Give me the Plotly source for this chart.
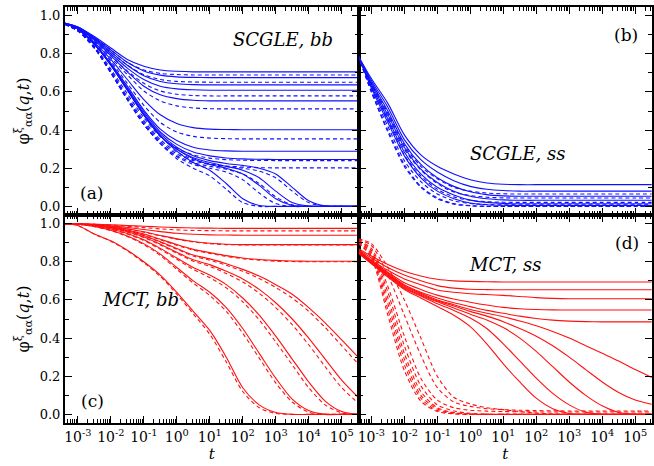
import plotly.graph_objects as go
from plotly.subplots import make_subplots

# sample grid (log10 t)
LOG_T = [-3.4, -3.0, -2.5, -2.0, -1.5, -1.0, -0.5, 0.0, 0.5, 1.0, 1.5, 2.0, 2.5, 3.0, 3.5, 4.0, 4.5, 5.0, 5.5]
T = [10 ** v for v in LOG_T]

X_TICKS = [1e-3, 1e-2, 1e-1, 1e0, 1e1, 1e2, 1e3, 1e4, 1e5]
X_TICKTEXT = ["10<sup>-3</sup>", "10<sup>-2</sup>", "10<sup>-1</sup>", "10<sup>0</sup>", "10<sup>1</sup>",
              "10<sup>2</sup>", "10<sup>3</sup>", "10<sup>4</sup>", "10<sup>5</sup>"]
Y_TICKS = [0.0, 0.2, 0.4, 0.6, 0.8, 1.0]
Y_TICKTEXT = ["0.0", "0.2", "0.4", "0.6", "0.8", "1.0"]

# ---- panel (a) SCGLE, bb ----
a_solid = [
    [0.96,0.94,0.89,0.83,0.77,0.735,0.715,0.708,0.705,0.705,0.705,0.705,0.705,0.705,0.705,0.705,0.705,0.705,0.705],
    [0.96,0.94,0.885,0.82,0.755,0.71,0.688,0.679,0.676,0.675,0.675,0.675,0.675,0.675,0.675,0.675,0.675,0.675,0.675],
    [0.96,0.94,0.88,0.81,0.74,0.685,0.655,0.643,0.638,0.637,0.637,0.637,0.637,0.637,0.637,0.637,0.637,0.637,0.637],
    [0.96,0.935,0.875,0.80,0.725,0.665,0.63,0.616,0.611,0.609,0.609,0.609,0.609,0.609,0.609,0.609,0.609,0.609,0.609],
    [0.96,0.935,0.87,0.79,0.705,0.63,0.585,0.565,0.556,0.553,0.553,0.553,0.553,0.553,0.553,0.553,0.553,0.553,0.553],
    [0.96,0.93,0.86,0.77,0.665,0.56,0.48,0.435,0.413,0.405,0.403,0.402,0.402,0.402,0.402,0.402,0.402,0.402,0.402],
    [0.96,0.93,0.85,0.75,0.63,0.505,0.405,0.345,0.31,0.296,0.291,0.289,0.289,0.289,0.289,0.289,0.289,0.289,0.289],
    [0.96,0.93,0.85,0.745,0.62,0.495,0.39,0.325,0.285,0.265,0.254,0.249,0.247,0.246,0.246,0.246,0.246,0.246,0.246],
    [0.96,0.93,0.85,0.74,0.61,0.48,0.37,0.29,0.23,0.19,0.12,0.04,0.005,0.0,0.0,0.0,0.0,0.0,0.0],
    [0.96,0.93,0.85,0.74,0.61,0.48,0.37,0.30,0.25,0.22,0.20,0.17,0.11,0.04,0.005,0.0,0.0,0.0,0.0],
    [0.96,0.93,0.85,0.74,0.61,0.48,0.37,0.30,0.255,0.23,0.21,0.19,0.15,0.08,0.02,0.002,0.0,0.0,0.0],
    [0.96,0.93,0.85,0.745,0.615,0.485,0.38,0.31,0.265,0.24,0.225,0.215,0.20,0.17,0.10,0.03,0.003,0.0,0.0],
]
a_dashed = [
    [0.958,0.938,0.885,0.82,0.755,0.715,0.697,0.691,0.689,0.689,0.689,0.689,0.689,0.689,0.689,0.689,0.689,0.689,0.689],
    [0.958,0.936,0.878,0.808,0.74,0.69,0.665,0.655,0.652,0.651,0.651,0.651,0.651,0.651,0.651,0.651,0.651,0.651,0.651],
    [0.958,0.934,0.87,0.79,0.71,0.645,0.605,0.588,0.581,0.579,0.579,0.579,0.579,0.579,0.579,0.579,0.579,0.579,0.579],
    [0.958,0.932,0.865,0.78,0.69,0.605,0.553,0.527,0.516,0.512,0.511,0.511,0.511,0.511,0.511,0.511,0.511,0.511,0.511],
    [0.955,0.928,0.855,0.76,0.645,0.53,0.44,0.39,0.367,0.358,0.355,0.354,0.354,0.354,0.354,0.354,0.354,0.354,0.354],
    [0.955,0.925,0.84,0.72,0.59,0.465,0.365,0.305,0.27,0.253,0.245,0.242,0.241,0.24,0.24,0.24,0.24,0.24,0.24],
    [0.955,0.92,0.835,0.71,0.575,0.45,0.35,0.285,0.245,0.223,0.212,0.206,0.203,0.202,0.202,0.202,0.202,0.202,0.202],
    [0.955,0.92,0.83,0.70,0.56,0.43,0.33,0.25,0.20,0.16,0.09,0.02,0.0,0.0,0.0,0.0,0.0,0.0,0.0],
    [0.955,0.92,0.83,0.70,0.56,0.43,0.33,0.26,0.22,0.20,0.18,0.14,0.07,0.015,0.0,0.0,0.0,0.0,0.0],
    [0.955,0.92,0.83,0.70,0.56,0.43,0.33,0.265,0.23,0.21,0.195,0.17,0.12,0.05,0.008,0.0,0.0,0.0,0.0],
    [0.955,0.92,0.83,0.705,0.565,0.44,0.34,0.275,0.24,0.22,0.21,0.20,0.185,0.15,0.08,0.02,0.002,0.0,0.0],
]

# ---- panel (b) SCGLE, ss ----
b_solid = [
    [0.79,0.67,0.54,0.375,0.27,0.21,0.17,0.14,0.123,0.116,0.114,0.114,0.114,0.114,0.114,0.114,0.114,0.114,0.114],
    [0.79,0.66,0.52,0.35,0.245,0.18,0.135,0.105,0.09,0.083,0.08,0.08,0.08,0.08,0.08,0.08,0.08,0.08,0.08],
    [0.79,0.65,0.50,0.33,0.22,0.15,0.105,0.077,0.062,0.055,0.053,0.053,0.053,0.053,0.053,0.053,0.053,0.053,0.053],
    [0.79,0.64,0.48,0.31,0.195,0.125,0.08,0.053,0.04,0.034,0.032,0.032,0.032,0.032,0.032,0.032,0.032,0.032,0.032],
    [0.79,0.63,0.46,0.285,0.17,0.10,0.06,0.033,0.021,0.016,0.014,0.014,0.014,0.014,0.014,0.014,0.014,0.014,0.014],
    [0.79,0.62,0.44,0.265,0.15,0.08,0.04,0.018,0.009,0.006,0.005,0.005,0.005,0.005,0.005,0.005,0.005,0.005,0.005],
]
b_dashed = [
    [0.79,0.645,0.49,0.32,0.21,0.145,0.10,0.08,0.07,0.066,0.065,0.065,0.065,0.065,0.065,0.065,0.065,0.065,0.065],
    [0.79,0.635,0.47,0.30,0.19,0.12,0.075,0.057,0.048,0.045,0.044,0.044,0.044,0.044,0.044,0.044,0.044,0.044,0.044],
    [0.79,0.62,0.45,0.27,0.16,0.09,0.05,0.032,0.025,0.022,0.021,0.021,0.021,0.021,0.021,0.021,0.021,0.021,0.021],
    [0.79,0.61,0.42,0.24,0.13,0.065,0.03,0.015,0.01,0.008,0.008,0.008,0.008,0.008,0.008,0.008,0.008,0.008,0.008],
    [0.79,0.60,0.40,0.22,0.105,0.045,0.015,0.004,0.001,0.0,0.0,0.0,0.0,0.0,0.0,0.0,0.0,0.0,0.0],
    [0.79,0.60,0.39,0.21,0.10,0.04,0.012,0.003,0.0,0.0,0.0,0.0,0.0,0.0,0.0,0.0,0.0,0.0,0.0],
]

# ---- panel (c) MCT, bb ----
c_solid = [
    [1.0,0.999,0.997,0.994,0.99,0.986,0.982,0.979,0.977,0.976,0.975,0.975,0.975,0.975,0.975,0.975,0.975,0.975,0.975],
    [1.0,0.999,0.995,0.989,0.98,0.969,0.958,0.949,0.944,0.941,0.94,0.939,0.939,0.939,0.939,0.939,0.939,0.939,0.939],
    [1.0,0.998,0.994,0.986,0.973,0.957,0.938,0.92,0.906,0.897,0.892,0.89,0.89,0.89,0.89,0.89,0.89,0.89,0.89],
    [1.0,0.998,0.992,0.982,0.966,0.945,0.918,0.89,0.865,0.848,0.832,0.82,0.812,0.807,0.804,0.803,0.803,0.803,0.803],
    [1.0,0.998,0.991,0.98,0.962,0.938,0.905,0.87,0.835,0.815,0.79,0.76,0.725,0.68,0.63,0.56,0.48,0.39,0.30],
    [1.0,0.998,0.99,0.977,0.957,0.93,0.892,0.85,0.81,0.785,0.75,0.71,0.655,0.585,0.50,0.40,0.29,0.18,0.09],
    [1.0,0.997,0.988,0.972,0.948,0.915,0.87,0.82,0.77,0.73,0.68,0.61,0.52,0.41,0.29,0.17,0.07,0.015,0.0],
    [1.0,0.997,0.985,0.965,0.935,0.895,0.84,0.77,0.70,0.64,0.56,0.45,0.32,0.19,0.08,0.02,0.0,0.0,0.0],
    [1.0,0.99,0.945,0.91,0.86,0.80,0.73,0.64,0.54,0.44,0.30,0.14,0.05,0.01,0.0,0.0,0.0,0.0,0.0],
]
c_dashed = [
    [1.0,0.999,0.996,0.992,0.986,0.979,0.972,0.967,0.964,0.963,0.962,0.962,0.962,0.962,0.962,0.962,0.962,0.962,0.962],
    [1.0,0.998,0.993,0.985,0.972,0.955,0.936,0.918,0.904,0.895,0.89,0.888,0.888,0.888,0.888,0.888,0.888,0.888,0.888],
    [1.0,0.998,0.992,0.981,0.965,0.943,0.915,0.886,0.861,0.844,0.828,0.816,0.808,0.803,0.801,0.80,0.80,0.80,0.80],
    [1.0,0.998,0.991,0.979,0.961,0.936,0.902,0.866,0.83,0.808,0.782,0.75,0.712,0.665,0.61,0.54,0.455,0.36,0.265],
    [1.0,0.998,0.99,0.976,0.955,0.927,0.888,0.845,0.803,0.776,0.738,0.694,0.635,0.56,0.47,0.365,0.25,0.14,0.06],
    [1.0,0.997,0.987,0.97,0.945,0.911,0.865,0.813,0.76,0.717,0.663,0.59,0.495,0.38,0.26,0.14,0.05,0.008,0.0],
    [1.0,0.997,0.984,0.963,0.932,0.89,0.833,0.76,0.688,0.623,0.54,0.425,0.295,0.165,0.065,0.012,0.0,0.0,0.0],
    [1.0,0.99,0.944,0.908,0.857,0.795,0.723,0.63,0.527,0.42,0.275,0.12,0.035,0.005,0.0,0.0,0.0,0.0,0.0],
]

# ---- panel (d) MCT, ss ----
d_solid = [
    [0.87,0.83,0.785,0.75,0.725,0.708,0.70,0.697,0.695,0.694,0.694,0.694,0.694,0.694,0.694,0.694,0.694,0.694,0.694],
    [0.865,0.82,0.77,0.73,0.70,0.675,0.662,0.656,0.654,0.653,0.653,0.653,0.653,0.653,0.653,0.653,0.653,0.653,0.653],
    [0.86,0.81,0.755,0.71,0.68,0.652,0.64,0.632,0.628,0.624,0.618,0.612,0.608,0.606,0.606,0.606,0.606,0.606,0.606],
    [0.86,0.805,0.745,0.69,0.655,0.625,0.605,0.588,0.573,0.561,0.554,0.55,0.548,0.547,0.547,0.547,0.547,0.547,0.547],
    [0.855,0.80,0.74,0.68,0.64,0.61,0.585,0.565,0.545,0.53,0.515,0.503,0.494,0.489,0.486,0.485,0.485,0.485,0.485],
    [0.855,0.80,0.735,0.675,0.635,0.60,0.575,0.55,0.53,0.512,0.49,0.465,0.435,0.40,0.36,0.32,0.28,0.235,0.194],
    [0.85,0.795,0.73,0.67,0.63,0.595,0.568,0.54,0.515,0.486,0.45,0.41,0.36,0.30,0.235,0.17,0.115,0.075,0.053],
    [0.85,0.795,0.73,0.665,0.625,0.59,0.558,0.525,0.495,0.455,0.40,0.33,0.25,0.17,0.10,0.045,0.01,0.0,0.0],
    [0.85,0.79,0.725,0.66,0.62,0.58,0.545,0.505,0.45,0.37,0.28,0.19,0.11,0.05,0.012,0.0,0.0,0.0,0.0],
    [0.845,0.79,0.72,0.655,0.61,0.565,0.52,0.46,0.37,0.265,0.17,0.085,0.03,0.005,0.0,0.0,0.0,0.0,0.0],
]
d_dashed = [
    [0.90,0.82,0.52,0.23,0.07,0.015,0.003,0.0,0.0,0.0,0.0,0.0,0.0,0.0,0.0,0.0,0.0,0.0,0.0],
    [0.90,0.83,0.55,0.26,0.085,0.02,0.005,0.0,0.0,0.0,0.0,0.0,0.0,0.0,0.0,0.0,0.0,0.0,0.0],
    [0.905,0.84,0.58,0.29,0.10,0.028,0.008,0.002,0.0,0.0,0.0,0.0,0.0,0.0,0.0,0.0,0.0,0.0,0.0],
    [0.905,0.85,0.61,0.32,0.12,0.035,0.01,0.003,0.0,0.0,0.0,0.0,0.0,0.0,0.0,0.0,0.0,0.0,0.0],
    [0.91,0.86,0.64,0.36,0.15,0.05,0.018,0.006,0.002,0.0,0.0,0.0,0.0,0.0,0.0,0.0,0.0,0.0,0.0],
    [0.91,0.87,0.67,0.41,0.19,0.075,0.035,0.022,0.017,0.015,0.014,0.013,0.013,0.013,0.013,0.013,0.013,0.013,0.013],
    [0.915,0.885,0.73,0.52,0.31,0.14,0.065,0.042,0.03,0.025,0.022,0.02,0.019,0.018,0.018,0.018,0.018,0.018,0.018],
    [0.92,0.895,0.77,0.60,0.40,0.20,0.09,0.055,0.035,0.025,0.015,0.007,0.002,0.0,0.0,0.0,0.0,0.0,0.0],
]

BLUE = "#1010ff"
RED = "#ff1010"
FONT = "DejaVu Serif"

fig = make_subplots(rows=2, cols=2, horizontal_spacing=0, vertical_spacing=0)

panels = [
    (1, 1, a_solid, a_dashed, BLUE),
    (1, 2, b_solid, b_dashed, BLUE),
    (2, 1, c_solid, c_dashed, RED),
    (2, 2, d_solid, d_dashed, RED),
]
for r, c, sol, das, col in panels:
    for ys in sol:
        fig.add_trace(go.Scatter(x=T, y=ys, mode="lines", line=dict(color=col, width=1.1, shape="spline", smoothing=0.8),
                                 showlegend=False, hoverinfo="skip"), row=r, col=c)
    for ys in das:
        fig.add_trace(go.Scatter(x=T, y=ys, mode="lines", line=dict(color=col, width=1.1, shape="spline", smoothing=0.8, dash="4px,3px"),
                                 showlegend=False, hoverinfo="skip"), row=r, col=c)

for r in (1, 2):
    for c in (1, 2):
        fig.update_xaxes(type="log", range=[-3.39, 5.51], tickmode="array", tickvals=X_TICKS, ticktext=X_TICKTEXT,
                         tickangle=0,
                         showline=True, linewidth=2, linecolor="black", mirror="ticks",
                         ticks="inside", ticklen=7, tickwidth=1, tickcolor="black",
                         minor=dict(ticks="inside", ticklen=4, tickcolor="black", dtick="D1"),
                         showgrid=False, zeroline=False, showticklabels=(r == 2),
                         tickfont=dict(family=FONT, size=14, color="black"), row=r, col=c)
        fig.update_yaxes(range=[-0.045, 1.045], tickmode="array", tickvals=Y_TICKS, ticktext=Y_TICKTEXT,
                         showline=True, linewidth=2, linecolor="black", mirror="ticks",
                         ticks="inside", ticklen=7, tickwidth=1, tickcolor="black",
                         minor=dict(ticks="inside", ticklen=4, tickcolor="black", dtick=0.1, tick0=0),
                         showgrid=False, zeroline=False, showticklabels=(c == 1),
                         tickfont=dict(family=FONT, size=13, color="black"), row=r, col=c)

ytitle = "φ<sup>ξ</sup><sub>αα</sub>(<i>q</i>,<i>t</i>)"
fig.update_yaxes(title=dict(text=ytitle, font=dict(family=FONT, size=16, color="black"), standoff=6), row=1, col=1)
fig.update_yaxes(title=dict(text=ytitle, font=dict(family=FONT, size=16, color="black"), standoff=6), row=2, col=1)
fig.update_xaxes(title=dict(text="<i>t</i>", font=dict(family=FONT, size=15, color="black"), standoff=2), row=2, col=1)
fig.update_xaxes(title=dict(text="<i>t</i>", font=dict(family=FONT, size=15, color="black"), standoff=2), row=2, col=2)

labels = [
    ("<i>SCGLE, bb</i>", 0.372, 0.921, 18),
    ("(a)", 0.045, 0.553, 17),
    ("(b)", 0.956, 0.933, 17),
    ("<i>SCGLE, ss</i>", 0.772, 0.649, 18),
    ("<i>MCT, bb</i>", 0.129, 0.296, 18),
    ("(c)", 0.046, 0.053, 17),
    ("<i>MCT, ss</i>", 0.749, 0.380, 18),
    ("(d)", 0.958, 0.433, 17),
]
for txt, x, y, sz in labels:
    fig.add_annotation(text=txt, x=x, y=y, xref="paper", yref="paper", showarrow=False,
                       xanchor="center", yanchor="middle", font=dict(family=FONT, size=sz, color="black"))

fig.update_layout(width=654, height=466, margin=dict(l=65, r=0, t=7, b=43),
                  plot_bgcolor="white", paper_bgcolor="white",
                  font=dict(family=FONT, color="black"))

fig.write_html("out.html")
